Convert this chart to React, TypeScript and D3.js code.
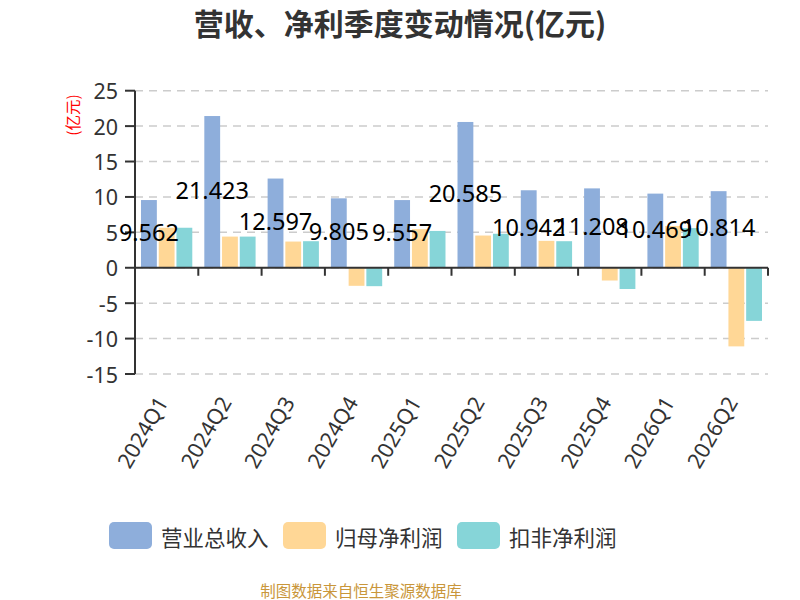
import React from "react";
import * as d3 from "d3";

const categories = ["2024Q1","2024Q2","2024Q3","2024Q4","2025Q1","2025Q2","2025Q3","2025Q4","2026Q1","2026Q2"];
const revenue = [9.562, 21.423, 12.597, 9.805, 9.557, 20.585, 10.942, 11.208, 10.469, 10.814];
const netProfit = [5.65, 4.4, 3.7, -2.55, 5.45, 4.55, 3.8, -1.8, 5.9, -11.1];
const deductedProfit = [5.65, 4.4, 3.75, -2.6, 5.2, 4.8, 3.75, -3.0, 5.6, -7.5];
const seriesNames = ["营业总收入", "归母净利润", "扣非净利润"];
const colors = ["#8eaedb", "#ffd796", "#86d5d8"];
const yTicks = [-15, -10, -5, 0, 5, 10, 15, 20, 25];

const FONT = "'Noto Sans', 'Noto Sans CJK SC', sans-serif";
const CJK = "'Noto Sans CJK SC', 'Noto Sans', sans-serif";

export default function App() {
  const W = 800, H = 600;
  const left = 135, right = 768, top = 90.7, bottom = 374;
  const x = d3.scaleBand<string>().domain(categories).range([left, right]).padding(0);
  const y = d3.scaleLinear().domain([-15, 25]).range([bottom, top]);
  const bw = x.bandwidth();
  const barW = bw * 0.25;
  const gap = bw * 0.03;
  const offset = (bw - 3 * barW - 2 * gap) / 2;
  const series = [revenue, netProfit, deductedProfit];
  const y0 = y(0);

  return (
    <div style={{ position: "absolute", left: 0, top: 0 }}>
      <svg width={W} height={H} style={{ display: "block", background: "#fff" }}>
        <text x={400} y={22} textAnchor="middle" dominantBaseline="central" fontFamily={CJK} fontWeight="bold" fontSize={30} fill="#333">
          营收、净利季度变动情况(亿元)
        </text>
        {yTicks.map((t) => (
          <line key={"g" + t} x1={left} x2={right} y1={y(t)} y2={y(t)} stroke="#ccc" strokeWidth={1.5} strokeDasharray="8,6" />
        ))}
        {categories.map((c, i) => (
          <g key={c}>
            {series.map((s, k) => {
              const v = s[i];
              const bx = (x(c) as number) + offset + k * (barW + gap);
              return (
                <rect key={k} x={bx} y={Math.min(y(v), y0)} width={barW} height={Math.abs(y(v) - y0)} fill={colors[k]} />
              );
            })}
          </g>
        ))}
        <line x1={left} x2={left} y1={top} y2={bottom} stroke="#333" strokeWidth={2} />
        {yTicks.map((t) => (
          <g key={"t" + t}>
            <line x1={left - 10} x2={left} y1={y(t)} y2={y(t)} stroke="#333" strokeWidth={2} />
            <text x={118} y={y(t)} textAnchor="end" dominantBaseline="central" fontFamily={FONT} fontSize={21.5} fill="#333">
              {t}
            </text>
          </g>
        ))}
        <text transform={`translate(72,115) rotate(-90)`} textAnchor="middle" dominantBaseline="central" fontFamily={CJK} fontSize={15.5} fill="#ff0000">
          (亿元)
        </text>
        <line x1={left} x2={right} y1={y0} y2={y0} stroke="#333" strokeWidth={2} />
        {categories.map((c) => (
          <line key={"xt" + c} x1={(x(c) as number) + bw} x2={(x(c) as number) + bw} y1={y0} y2={y0 + 8} stroke="#333" strokeWidth={2} />
        ))}
        {categories.map((c) => {
          const cx = (x(c) as number) + bw / 2;
          return (
            <text key={"xl" + c} transform={`translate(${cx - 5},${bottom + 24}) rotate(-60)`} textAnchor="end" dominantBaseline="central" fontFamily={FONT} fontSize={21.5} fill="#333">
              {c}
            </text>
          );
        })}
        {categories.map((c, i) => {
          const bx = (x(c) as number) + offset + barW / 2;
          const v = revenue[i];
          return (
            <text key={"dl" + c} x={bx} y={(y(v) + y0) / 2 - 2} textAnchor="middle" dominantBaseline="central" fontFamily={FONT} fontSize={23.5} fill="#000">
              {v}
            </text>
          );
        })}
        {seriesNames.map((n, k) => {
          const lx = 109 + k * 174;
          return (
            <g key={n}>
              <rect x={lx} y={522} width={43} height={27} rx={5} fill={colors[k]} />
              <text x={lx + 52} y={536} dominantBaseline="central" fontFamily={CJK} fontSize={21.5} fill="#333">
                {n}
              </text>
            </g>
          );
        })}
        <text x={361} y={590} textAnchor="middle" dominantBaseline="central" fontFamily={CJK} fontSize={15.5} fill="#c9963a">
          制图数据来自恒生聚源数据库
        </text>
      </svg>
    </div>
  );
}
